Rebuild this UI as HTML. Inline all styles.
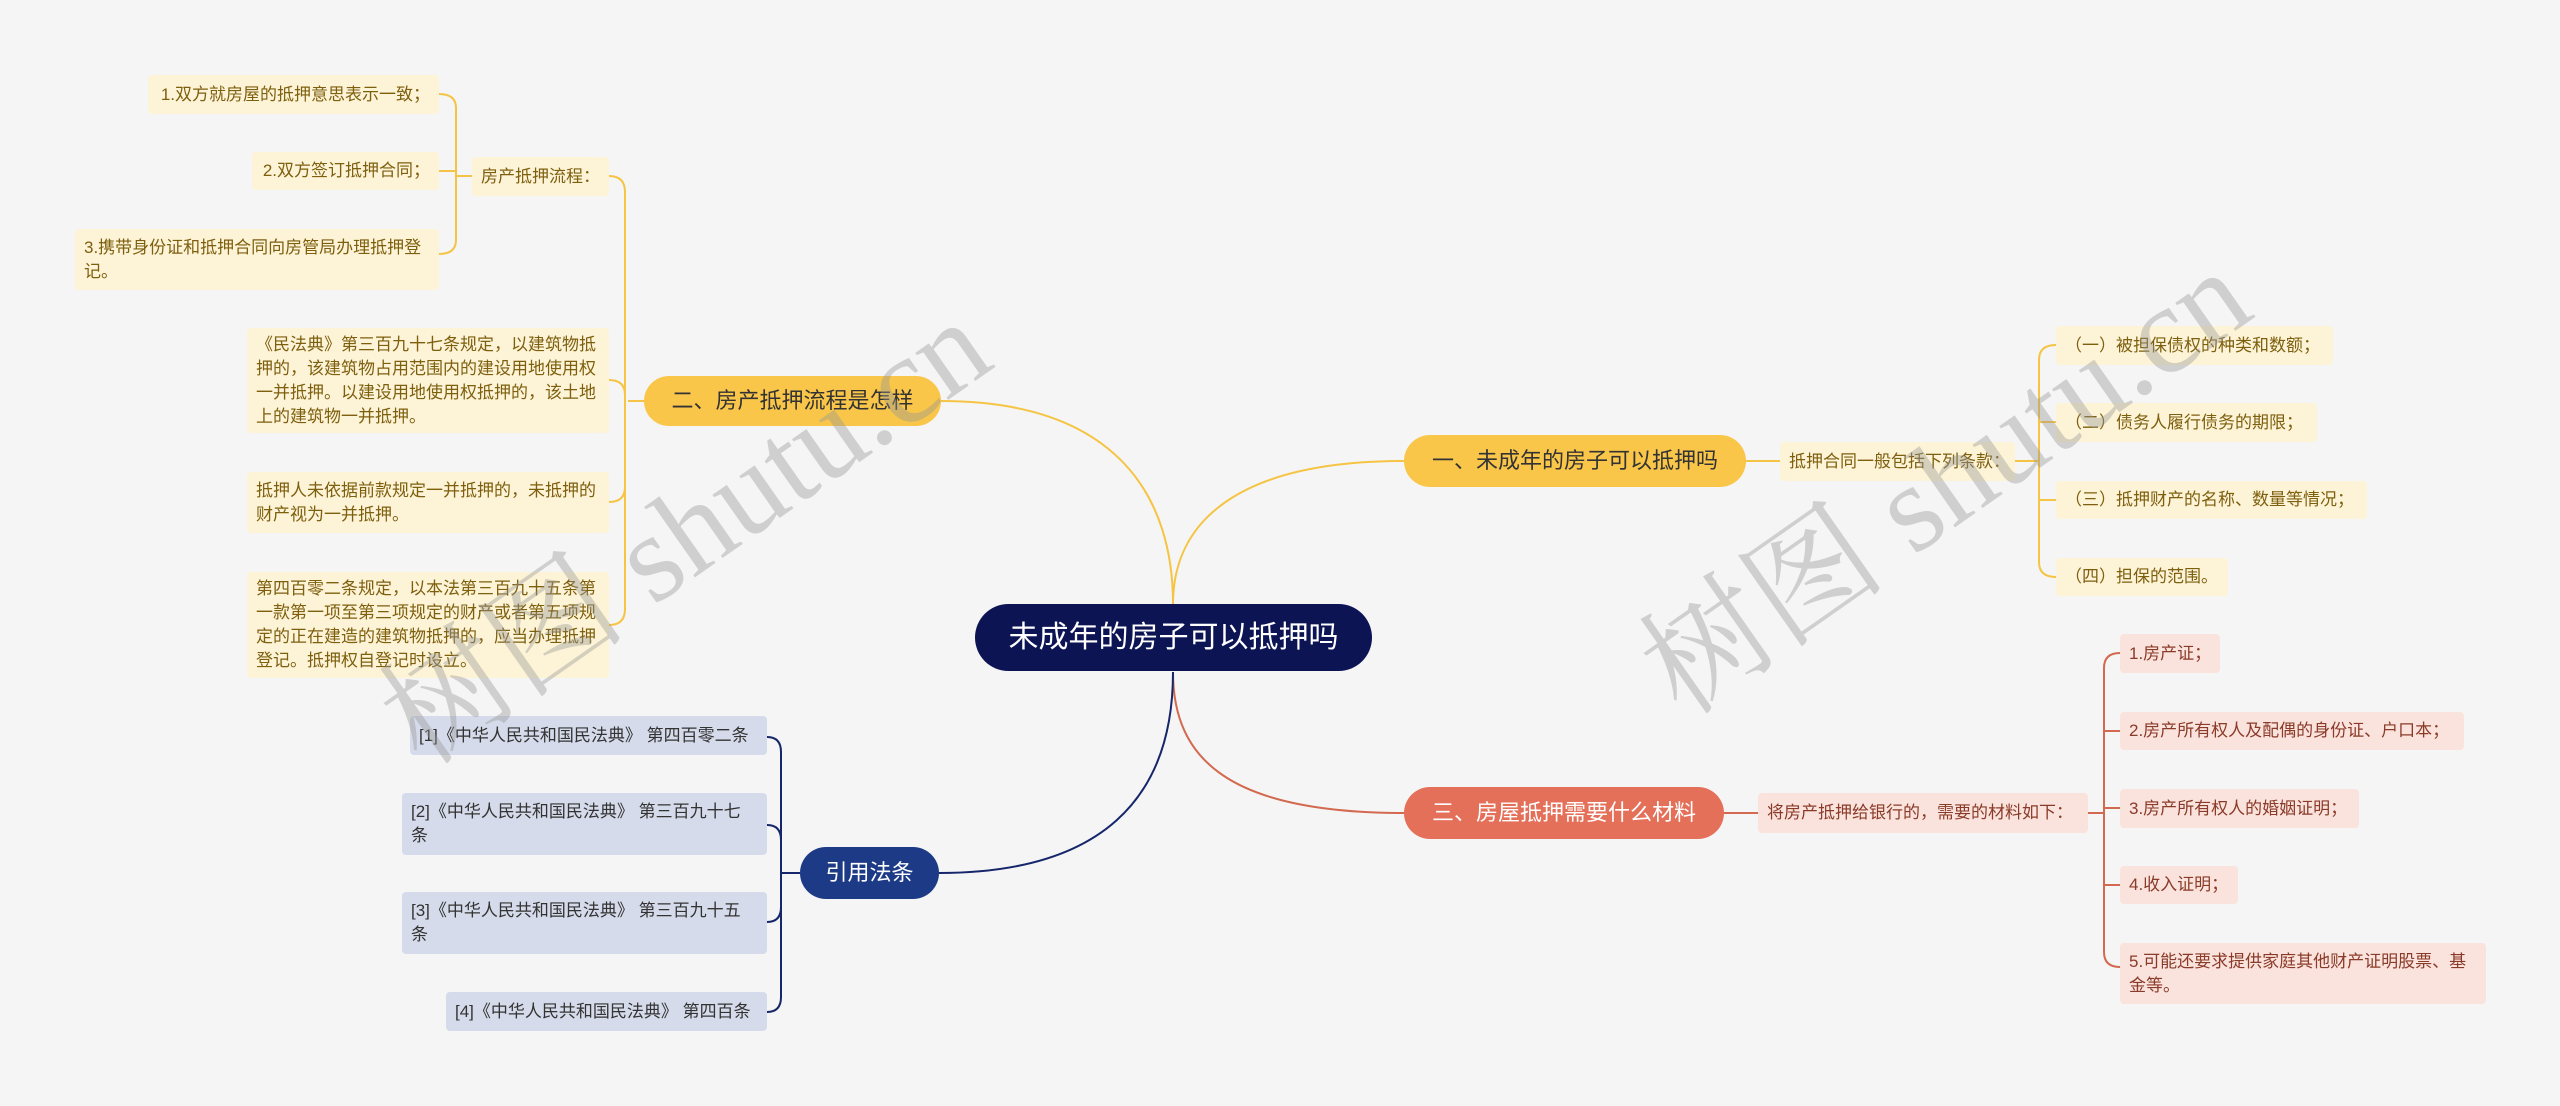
<!DOCTYPE html>
<html><head><meta charset="utf-8"><style>
html,body{margin:0;padding:0}
body{width:2560px;height:1106px;background:#f5f5f5;position:relative;overflow:hidden;font-family:"Liberation Sans","Noto Sans CJK SC",sans-serif}
.n{position:absolute;box-sizing:border-box;display:flex;align-items:center;font-size:17px;line-height:24px;padding:0 9px;border-radius:4px}
.s{white-space:nowrap}
.y{background:#fdf3d6;color:#7d5f0e}
.r{background:#fbe3dd;color:#8a3a28}
.b{background:#d5dbea;color:#333}
.m{border-radius:26px;justify-content:center;font-size:22px;padding:0;white-space:nowrap}
svg{position:absolute;left:0;top:0}
.wm{position:absolute;font-size:125px;color:rgba(150,150,150,0.4);transform:rotate(-35deg);transform-origin:left top;white-space:nowrap;font-family:"Liberation Serif","Noto Serif CJK SC",serif;pointer-events:none}
</style></head><body>
<svg width="2560" height="1106" fill="none" stroke-width="2">
<g stroke="#f5c444">
<path d="M1173 604 C1173 520 1240 461 1404 461"/>
<path d="M1173 604 C1173 500 1120 401 941 401"/>
<path d="M1746 461 H1780"/>
<path d="M2015 461 H2039"/>
<path d="M2056 345 Q2039 345 2039 360 V562 Q2039 577 2056 577"/>
<path d="M2039 422 H2056 M2039 500 H2056"/>
<path d="M644 401 H628"/>
<path d="M609 176 Q625 176 625 192 V609 Q625 625 609 625"/>
<path d="M609 380 Q625 380 625 395 M609 502 Q625 502 625 487"/>
<path d="M472 176 H456"/>
<path d="M439 94 Q456 94 456 108 V240 Q456 254 439 254"/>
<path d="M456 171 H439"/>
</g>
<g stroke="#d3694f">
<path d="M1173 672 C1173 760 1230 813 1404 813"/>
<path d="M1724 813 H1758"/>
<path d="M2088 813 H2104"/>
<path d="M2120 653 Q2104 653 2104 668 V952 Q2104 967 2120 967"/>
<path d="M2104 731 H2120 M2104 808 H2120 M2104 885 H2120"/>
</g>
<g stroke="#16266a">
<path d="M1173 672 C1173 800 1100 873 939 873"/>
<path d="M800 873 H781"/>
<path d="M767 737 Q781 737 781 752 V997 Q781 1012 767 1012"/>
<path d="M767 825 Q781 825 781 840 M767 922 Q781 922 781 907"/>
</g>
</svg>

<div class="n m" style="left:975px;top:604px;width:397px;height:67px;background:#0c1453;color:#fff;font-size:30px;border-radius:34px">未成年的房子可以抵押吗</div>

<div class="n m" style="left:644px;top:376px;width:297px;height:50px;background:#f9c64a;color:#333">二、房产抵押流程是怎样</div>
<div class="n y s" style="left:472px;top:157px;width:137px;height:39px">房产抵押流程：</div>
<div class="n y s" style="left:148px;top:75px;width:291px;height:39px;justify-content:flex-end">1.双方就房屋的抵押意思表示一致；</div>
<div class="n y s" style="left:252px;top:152px;width:187px;height:38px;justify-content:flex-end">2.双方签订抵押合同；</div>
<div class="n y" style="left:75px;top:229px;width:364px;height:61px">3.携带身份证和抵押合同向房管局办理抵押登<br>记。</div>
<div class="n y" style="left:247px;top:328px;width:362px;height:105px">《民法典》第三百九十七条规定，以建筑物抵押的，该建筑物占用范围内的建设用地使用权一并抵押。以建设用地使用权抵押的，该土地上的建筑物一并抵押。</div>
<div class="n y" style="left:247px;top:472px;width:362px;height:61px">抵押人未依据前款规定一并抵押的，未抵押的财产视为一并抵押。</div>
<div class="n y" style="left:247px;top:572px;width:362px;height:106px">第四百零二条规定，以本法第三百九十五条第一款第一项至第三项规定的财产或者第五项规定的正在建造的建筑物抵押的，应当办理抵押登记。抵押权自登记时设立。</div>

<div class="n m" style="left:1404px;top:435px;width:342px;height:52px;background:#f9c64a;color:#333">一、未成年的房子可以抵押吗</div>
<div class="n y s" style="left:1780px;top:442px;width:235px;height:39px">抵押合同一般包括下列条款：</div>
<div class="n y s" style="left:2056px;top:326px;width:277px;height:39px">（一）被担保债权的种类和数额；</div>
<div class="n y s" style="left:2056px;top:403px;width:261px;height:39px">（二）债务人履行债务的期限；</div>
<div class="n y s" style="left:2056px;top:481px;width:311px;height:38px">（三）抵押财产的名称、数量等情况；</div>
<div class="n y s" style="left:2056px;top:558px;width:172px;height:38px">（四）担保的范围。</div>

<div class="n m" style="left:1404px;top:787px;width:320px;height:52px;background:#e4705a;color:#fff">三、房屋抵押需要什么材料</div>
<div class="n r s" style="left:1758px;top:793px;width:330px;height:40px">将房产抵押给银行的，需要的材料如下：</div>
<div class="n r s" style="left:2120px;top:634px;width:100px;height:39px">1.房产证；</div>
<div class="n r s" style="left:2120px;top:712px;width:344px;height:38px">2.房产所有权人及配偶的身份证、户口本；</div>
<div class="n r s" style="left:2120px;top:789px;width:239px;height:39px">3.房产所有权人的婚姻证明；</div>
<div class="n r s" style="left:2120px;top:866px;width:118px;height:38px">4.收入证明；</div>
<div class="n r" style="left:2120px;top:943px;width:366px;height:61px">5.可能还要求提供家庭其他财产证明股票、基<br>金等。</div>

<div class="n m" style="left:800px;top:847px;width:139px;height:52px;background:#1d3a87;color:#fff">引用法条</div>
<div class="n b s" style="left:410px;top:716px;width:357px;height:39px">[1]《中华人民共和国民法典》 第四百零二条</div>
<div class="n b" style="left:402px;top:793px;width:365px;height:62px">[2]《中华人民共和国民法典》 第三百九十七<br>条</div>
<div class="n b" style="left:402px;top:892px;width:365px;height:62px">[3]《中华人民共和国民法典》 第三百九十五<br>条</div>
<div class="n b s" style="left:446px;top:992px;width:321px;height:39px">[4]《中华人民共和国民法典》 第四百条</div>

<div class="wm" style="left:340px;top:650px">树图 shutu.cn</div>
<div class="wm" style="left:1600px;top:600px">树图 shutu.cn</div>
</body></html>
